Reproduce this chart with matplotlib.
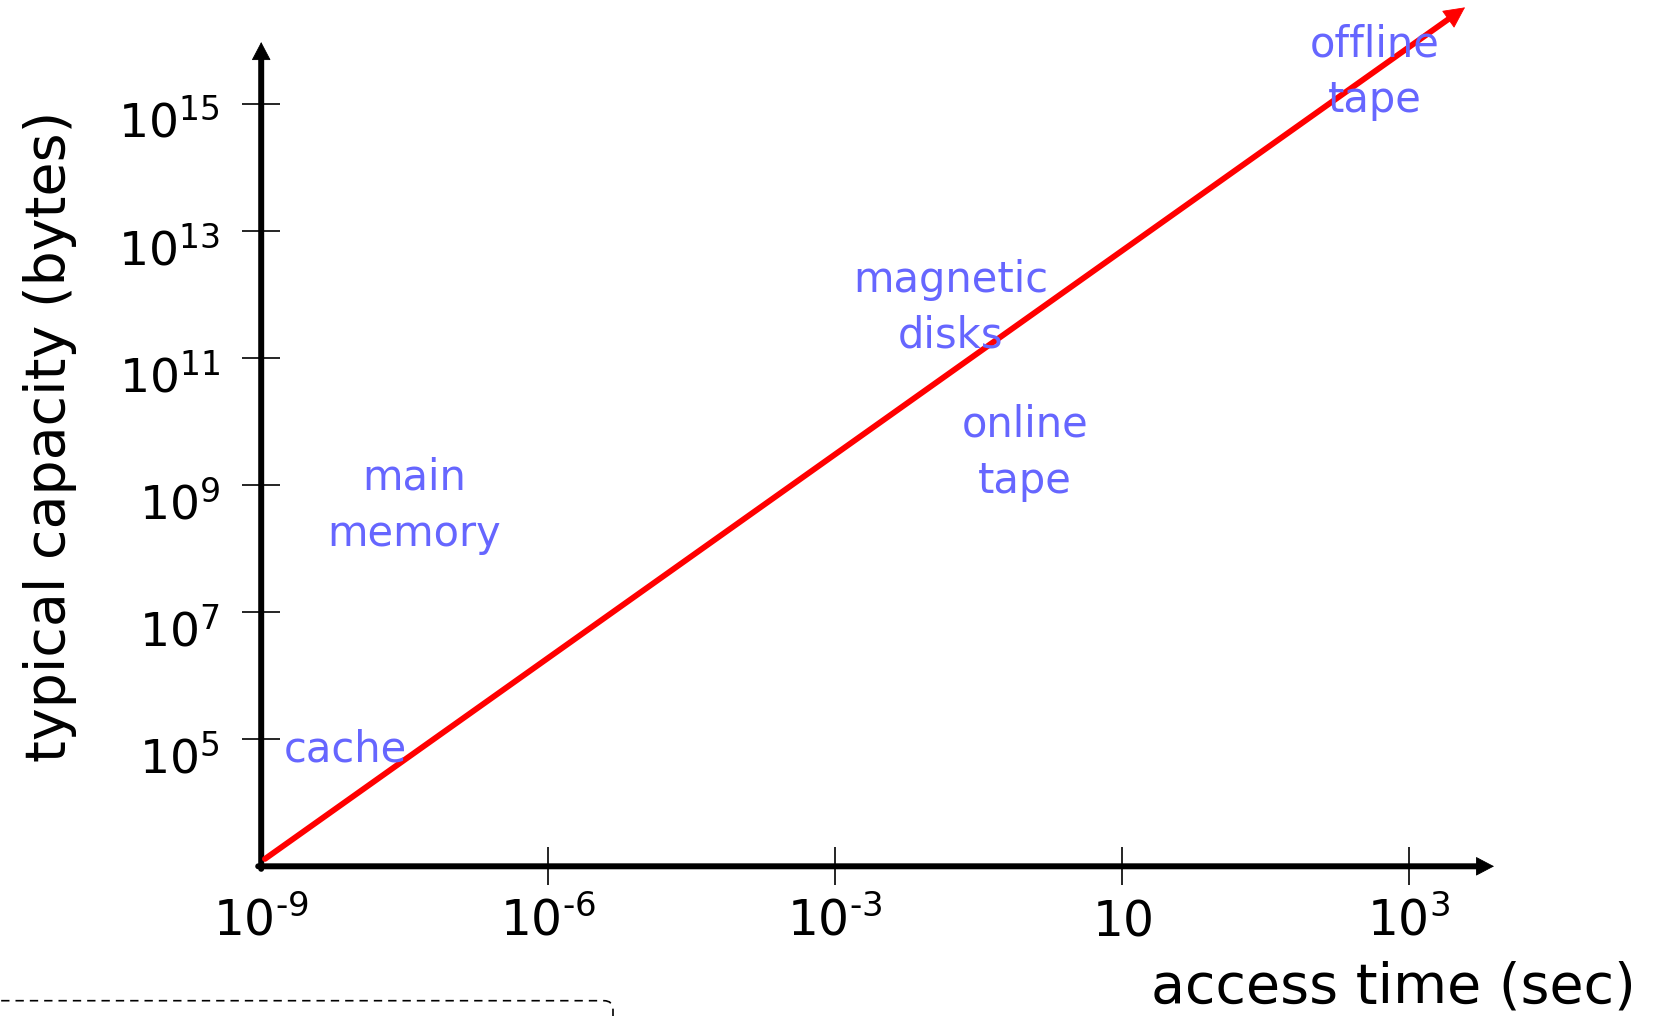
import matplotlib
matplotlib.use("Agg")
import matplotlib.pyplot as plt
from matplotlib.patches import FancyBboxPatch
from matplotlib.transforms import IdentityTransform

plt.rcParams['font.family'] = ['DejaVu Sans']
plt.rcParams['mathtext.default'] = 'regular'

# ---------------- data (schematic axes: positions are tick indices) ----------
x_exponents = ['\u20109', '\u20106', '\u20103', '', '3']      # 10^-9 ... 10^3
y_exponents = ['5', '7', '9', '11', '13', '15']               # 10^5 ... 10^15

storage_names = ['cache', 'main\nmemory', 'magnetic\ndisks', 'online\ntape', 'offline\ntape']
storage_x = [0.292, 0.534, 2.404, 2.662, 3.882]   # access-time position
storage_y = [0.821, 2.961, 4.521, 3.380, 6.375]   # capacity position (first line)

trend_x = [0.013, 4.196]
trend_y = [0.058, 6.758]

x_axis_end = 4.297
y_axis_end = 6.485

x_label = 'access time (sec)'
y_label = 'typical capacity (bytes)'

# ---------------- styles ----------------
BLUE = '#6666FF'
RED = '#FF0000'
W, H = 1656, 1016
X0, XS = 261.2, 286.9
Y0, YS = 866.3, 127.1

fig = plt.figure(figsize=(W / 100, H / 100), dpi=100)
ax = fig.add_axes([0, 0, 1, 1])
ax.set_xlim(-X0 / XS, (W - X0) / XS)
ax.set_ylim((Y0 - H) / YS, Y0 / YS)
for s in ax.spines.values():
    s.set_visible(False)
ax.spines['bottom'].set_position(('data', 0))
ax.spines['left'].set_position(('data', 0))
ax.set_xticks(range(1, len(x_exponents)))
ax.set_yticks(range(1, len(y_exponents) + 1))
ax.tick_params(direction='inout', length=27, width=1.2, color='black',
               labelbottom=False, labelleft=False)

# axes with arrow heads
def arrow(p0, p1, color, lw, hl, hw):
    ax.annotate('', xy=p1, xytext=p0,
                arrowprops=dict(arrowstyle='-', lw=lw, color=color,
                                shrinkA=0, shrinkB=hl * 0.8))
    ax.annotate('', xy=p1, xytext=p0,
                arrowprops=dict(arrowstyle=f'-|>,head_length={hl},head_width={hw}',
                                mutation_scale=1, lw=0.6, color=color,
                                shrinkA=0, shrinkB=0))

arrow((-0.0105, 0), (x_axis_end, 0), 'black', 4.3, 12, 6.3)
arrow((0, -0.02), (0, y_axis_end), 'black', 4.3, 12, 6.3)
arrow((trend_x[0], trend_y[0]), (trend_x[1], trend_y[1]), RED, 4.2, 14, 7.0)

# tick labels
for i, e in enumerate(x_exponents):
    lab = r'$10^{%s}$' % e if e else '$10$'
    ax.text(i, -0.541, lab, ha='center', va='baseline', fontsize=35)
for i, e in enumerate(y_exponents):
    ax.text(-0.1436, i + 1 - 0.2675, r'$10^{%s}$' % e, ha='right', va='baseline', fontsize=34)

# storage labels
for name, sx, sy in zip(storage_names, storage_x, storage_y):
    for k, line in enumerate(name.split('\n')):
        ax.text(sx, sy - 0.443 * k, line, ha='center', va='baseline',
                fontsize=30, color=BLUE)

# axis titles
ax.text(4.792, -1.068, x_label, ha='right', va='baseline', fontsize=40)
ax.text(-0.684, 3.386, y_label, rotation=90, rotation_mode='anchor',
        ha='center', va='baseline', fontsize=40)

# dashed rounded box at bottom-left (decoration)
box = FancyBboxPatch((-50, -100), 663, 115.3,
                     boxstyle='round,pad=0,rounding_size=9',
                     transform=IdentityTransform(), fill=False,
                     ec='black', lw=1.2, ls=(0, (5.0, 3.6)))
fig.add_artist(box)

fig.savefig('out.png', dpi=100)
